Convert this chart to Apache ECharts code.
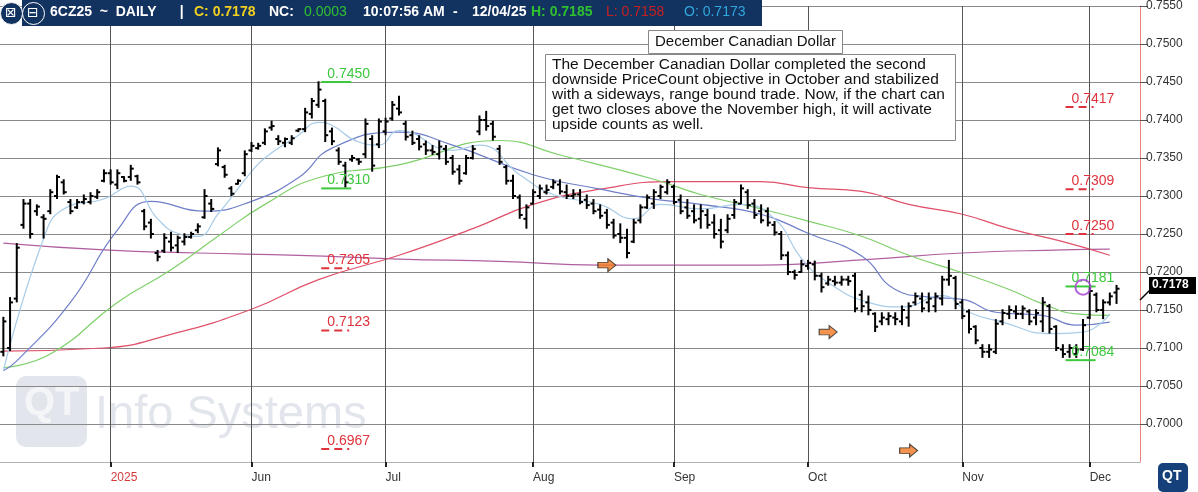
<!DOCTYPE html>
<html>
<head>
<meta charset="utf-8">
<script src="https://cdn.jsdelivr.net/npm/echarts@6/dist/echarts.min.js"></script>
<style>
html,body{margin:0;padding:0;background:#fff;}
#chart{width:1198px;height:492px;}
</style>
</head>
<body>
<div id="chart"></div>
<script>
// daily bars: [open, high, low, close]
var bars = [
[.7095,.7141,.7089,.7135],[.7100,.7167,.7096,.7160],[.7165,.7238,.7160,.7232],[.7262,.7296,.7257,.7290],
[.7290,.7296,.7244,.7250],[.7280,.7289,.7274,.7286],[.7272,.7276,.7244,.7270],[.7280,.7309,.7276,.7305],
[.7300,.7328,.7296,.7325],[.7318,.7322,.7302,.7305],[.7292,.7296,.7276,.7280],[.7285,.7296,.7283,.7292],
[.7292,.7302,.7289,.7296],[.7292,.7305,.7289,.7300],[.7299,.7309,.7296,.7305],[.7320,.7335,.7318,.7330],
[.7330,.7335,.7315,.7318],[.7315,.7335,.7309,.7330],[.7325,.7326,.7318,.7320],[.7325,.7341,.7320,.7336],
[.7326,.7328,.7315,.7318],[.7280,.7283,.7255,.7260],[.7265,.7270,.7244,.7250],[.7225,.7229,.7214,.7220],
[.7228,.7251,.7225,.7245],[.7240,.7253,.7227,.7232],[.7235,.7248,.7225,.7245],[.7240,.7251,.7235,.7246],
[.7246,.7253,.7244,.7250],[.7255,.7264,.7251,.7260],[.7272,.7309,.7270,.7300],[.7290,.7296,.7279,.7283],
[.7342,.7364,.7339,.7360],[.7338,.7341,.7324,.7328],[.7310,.7313,.7300,.7303],[.7316,.7322,.7315,.7320],
[.7330,.7360,.7326,.7355],[.7360,.7371,.7358,.7366],[.7363,.7370,.7361,.7366],[.7370,.7389,.7367,.7385],
[.7390,.7399,.7386,.7392],[.7375,.7380,.7367,.7372],[.7370,.7377,.7364,.7375],[.7370,.7380,.7367,.7376],
[.7386,.7389,.7384,.7388],[.7388,.7416,.7384,.7410],[.7408,.7429,.7402,.7425],[.7420,.7451,.7416,.7440],
[.7425,.7428,.7371,.7380],[.7385,.7390,.7367,.7372],[.7360,.7364,.7341,.7345],[.7340,.7345,.7311,.7318],
[.7348,.7354,.7345,.7350],[.7348,.7350,.7341,.7345],[.7355,.7402,.7350,.7395],[.7375,.7380,.7332,.7340],
[.7368,.7402,.7363,.7398],[.7385,.7403,.7380,.7398],[.7402,.7425,.7399,.7420],[.7415,.7432,.7406,.7410],
[.7395,.7399,.7373,.7378],[.7380,.7386,.7367,.7370],[.7375,.7380,.7360,.7365],[.7368,.7373,.7354,.7360],
[.7360,.7367,.7354,.7358],[.7355,.7373,.7348,.7365],[.7362,.7367,.7341,.7345],[.7350,.7354,.7328,.7332],
[.7335,.7341,.7315,.7320],[.7330,.7354,.7328,.7350],[.7350,.7367,.7348,.7362],[.7385,.7406,.7380,.7400],
[.7400,.7412,.7386,.7392],[.7395,.7399,.7373,.7378],[.7362,.7367,.7341,.7345],[.7338,.7341,.7315,.7320],
[.7320,.7328,.7296,.7300],[.7298,.7302,.7270,.7275],[.7270,.7289,.7257,.7285],[.7290,.7309,.7289,.7305],
[.7300,.7315,.7296,.7310],[.7305,.7315,.7302,.7308],[.7312,.7322,.7309,.7318],[.7315,.7322,.7302,.7306],
[.7305,.7315,.7296,.7300],[.7300,.7309,.7296,.7302],[.7302,.7309,.7289,.7292],[.7295,.7302,.7283,.7288],
[.7290,.7296,.7276,.7280],[.7282,.7289,.7270,.7274],[.7278,.7283,.7257,.7262],[.7265,.7270,.7244,.7248],
[.7250,.7264,.7238,.7245],[.7245,.7257,.7218,.7225],[.7240,.7270,.7238,.7265],[.7268,.7289,.7264,.7285],
[.7285,.7302,.7283,.7298],[.7290,.7309,.7283,.7305],[.7300,.7315,.7296,.7312],[.7305,.7322,.7302,.7318],
[.7312,.7315,.7289,.7292],[.7295,.7302,.7276,.7280],[.7285,.7296,.7270,.7274],[.7280,.7289,.7264,.7268],
[.7270,.7289,.7257,.7280],[.7275,.7283,.7257,.7262],[.7265,.7276,.7244,.7250],[.7255,.7270,.7231,.7240],
[.7255,.7276,.7251,.7270],[.7275,.7296,.7270,.7292],[.7290,.7315,.7289,.7310],[.7305,.7309,.7283,.7288],
[.7290,.7296,.7270,.7275],[.7280,.7289,.7264,.7268],[.7280,.7285,.7260,.7265],[.7262,.7267,.7248,.7252],
[.7250,.7254,.7216,.7222],[.7222,.7227,.7196,.7200],[.7200,.7203,.7190,.7196],[.7200,.7216,.7199,.7210],
[.7208,.7216,.7203,.7212],[.7210,.7215,.7189,.7195],[.7195,.7199,.7173,.7180],[.7185,.7195,.7182,.7190],
[.7188,.7195,.7182,.7186],[.7186,.7195,.7182,.7190],[.7190,.7195,.7182,.7188],[.7195,.7199,.7147,.7152],
[.7170,.7176,.7147,.7155],[.7160,.7169,.7143,.7150],[.7145,.7147,.7121,.7128],[.7135,.7147,.7130,.7140],
[.7138,.7147,.7130,.7142],[.7140,.7147,.7130,.7138],[.7135,.7156,.7130,.7150],[.7140,.7160,.7128,.7155],
[.7160,.7173,.7156,.7168],[.7165,.7173,.7147,.7152],[.7160,.7173,.7147,.7165],[.7155,.7173,.7147,.7168],
[.7165,.7195,.7156,.7190],[.7190,.7216,.7182,.7195],[.7192,.7195,.7151,.7158],[.7160,.7164,.7138,.7142],
[.7148,.7151,.7119,.7125],[.7128,.7130,.7105,.7110],[.7100,.7105,.7087,.7095],[.7095,.7105,.7087,.7098],
[.7095,.7138,.7092,.7132],[.7135,.7151,.7130,.7146],[.7145,.7156,.7138,.7150],[.7148,.7156,.7138,.7145],
[.7145,.7156,.7138,.7152],[.7148,.7151,.7130,.7135],[.7140,.7151,.7130,.7146],[.7135,.7167,.7121,.7160],
[.7155,.7158,.7119,.7125],[.7128,.7130,.7096,.7100],[.7098,.7105,.7087,.7092],[.7095,.7105,.7087,.7100],
[.7092,.7105,.7087,.7098],[.7098,.7138,.7096,.7130],[.7140,.7182,.7138,.7175],[.7170,.7173,.7147,.7150],
[.7150,.7164,.7138,.7160],[.7160,.7173,.7156,.7168],[.7173,.7183,.7158,.7178]
];
var totalSlots = 170;
var monthIdx = [16, 37, 57, 79, 100, 120, 143, 162];
var monthNames = ['2025', 'Jun', 'Jul', 'Aug', 'Sep', 'Oct', 'Nov', 'Dec'];

// moving averages: [bar index, value]
var maFast = [[0,.7070],[5.5,.7244],[9.3,.7283],[14.5,.7296],[19.4,.7313],[23.4,.7270],[26.4,.7251],[29.4,.7247],[32.4,.7276],[36.9,.7332],[39.4,.7350],[44.3,.7380],[47.3,.7397],[49.3,.7393],[53.3,.7371],[56.3,.7367],[59.3,.7386],[66.7,.7360],[71.2,.7367],[77.2,.7328],[81.6,.7302],[89.1,.7289],[93.6,.7270],[98.1,.7289],[104,.7283],[110,.7289],[114.5,.7270],[119,.7218],[123.4,.7186],[129.4,.7160],[133.9,.7154],[139.9,.7169],[144.3,.7147],[148.8,.7134],[156.3,.7119],[160.7,.7121],[165.2,.7145]];
var maMid = [[0,.7070],[1.5,.7083],[9.6,.7160],[17,.7255],[22.4,.7293],[30.4,.7280],[36.9,.7293],[44.3,.7324],[49.3,.7363],[58.8,.7384],[66.7,.7367],[78.7,.7328],[89.1,.7309],[96.6,.7296],[104,.7289],[113,.7276],[120.4,.7251],[127.9,.7221],[132.8,.7177],[137.9,.7167],[142.8,.7164],[147.8,.7147],[155.2,.7143],[160.3,.7130],[164.9,.7134]];
var maSlow = [[0,.7074],[7,.7092],[17,.7160],[24.5,.7203],[31.9,.7247],[39.4,.7289],[46.9,.7324],[58.8,.7341],[74.2,.7373],[83.1,.7354],[96.6,.7322],[104,.7302],[113,.7283],[120.4,.7267],[127.9,.7247],[135.4,.7222],[142.8,.7199],[150.3,.7177],[155.2,.7158],[160.3,.7145],[164.9,.7143]];
var ma100 = [[0,.7096],[14.5,.7100],[24.5,.7118],[36.9,.7151],[46.9,.7190],[58.8,.7222],[69.7,.7257],[78.7,.7289],[89.1,.7309],[99.6,.7319],[113,.7319],[120.4,.7311],[127.9,.7306],[135.4,.7289],[142.8,.7276],[150.3,.7257],[157.8,.7240],[164.9,.7222]];
var ma200 = [[0,.7238],[14.5,.7229],[29.4,.7225],[44.3,.7222],[58.8,.7217],[74.2,.7214],[89.1,.7209],[104,.7209],[113,.7209],[127.9,.7216],[142.8,.7225],[157.8,.7229],[164.9,.7230]];

// price count levels: bar index and level
var redIdx = [158.5, 158.5, 158.5, 47.5, 47.5, 47.5];
var redVals = [0.7417, 0.7309, 0.7250, 0.7205, 0.7123, 0.6967];
var greenIdx = [47.5, 47.5, 158.5, 158.5];
var greenVals = [0.7450, 0.7310, 0.7181, 0.7084];
var arrows = [[89.5,.7209],[123.4,.7121],[135,.6965]];
var circlePt = [[161.2,.7180]];
var lastPrice = 0.7178;

var cats = [];
for (var i = 0; i < totalSlots; i++) {
	var m = monthIdx.indexOf(i);
	cats.push(m >= 0 ? monthNames[m] : '');
}

var myChart = echarts.init(document.getElementById('chart'));

function ohlcItem(params, api) {
	var x = api.value(0);
	var o = api.coord([x, api.value(1)]);
	var h = api.coord([x, api.value(2)]);
	var l = api.coord([x, api.value(3)]);
	var c = api.coord([x, api.value(4)]);
	var s = {stroke: '#000', lineWidth: 2};
	return {type: 'group', children: [
		{type: 'line', shape: {x1: h[0], y1: h[1], x2: l[0], y2: l[1]}, style: s},
		{type: 'line', shape: {x1: o[0] - 3, y1: o[1], x2: o[0], y2: o[1]}, style: s},
		{type: 'line', shape: {x1: c[0], y1: c[1], x2: c[0] + 3, y2: c[1]}, style: s}
	]};
}

function levelItem(color, dashed) {
	return function (params, api) {
		var v = api.value(1);
		var p = api.coord([api.value(0), v]);
		return {type: 'group', children: [
			{type: 'line', shape: {x1: p[0] - 4, y1: p[1], x2: p[0] + (dashed ? 24 : 26), y2: p[1]},
				style: {stroke: color, lineWidth: 2, lineDash: dashed ? [8, 5] : null}},
			{type: 'text', x: p[0] + 2, y: p[1] - 1,
				style: {text: v.toFixed(4), fill: color, font: '14px Arial', textVerticalAlign: 'bottom'}}
		]};
	};
}

function maSeries(data, color) {
	return {type: 'line', data: data, smooth: true, symbol: 'none', silent: true,
		lineStyle: {color: color, width: 1.2}, z: 3};
}

var ohlcData = bars.map(function (b, i) { return [i, b[0], b[1], b[2], b[3]]; });
var redData = redIdx.map(function (x, i) { return [x, redVals[i]]; });
var greenData = greenIdx.map(function (x, i) { return [x, greenVals[i]]; });

var hdr = 'bold 14px "Liberation Sans Narrow", Arial';
var option = {
	animation: false,
	grid: {left: 0, right: 58, top: -2, bottom: 30},
	xAxis: [{
		type: 'category', data: cats, boundaryGap: true,
		axisLine: {lineStyle: {color: '#bbb', type: 'dotted'}},
		axisTick: {show: true, interval: function (i) { return monthIdx.indexOf(i) >= 0; }, alignWithLabel: true, lineStyle: {color: '#222', width: 2}, length: 5},
		axisLabel: {interval: function (i) { return monthIdx.indexOf(i) >= 0; }, align: 'left', color: function (v) { return v == '2025' ? '#d43a3a' : '#333'; }, fontSize: 12, fontFamily: 'Arial', margin: 10},
		splitLine: {show: false}
	}],
	yAxis: {
		type: 'value', position: 'right', min: 0.695, max: 0.755, interval: 0.005,
		axisLine: {show: true, lineStyle: {color: '#f08080'}},
		axisTick: {show: true, length: 8, lineStyle: {color: '#555'}},
		axisLabel: {color: '#333', fontSize: 12, fontFamily: 'Arial', margin: 6, showMinLabel: false, formatter: function (v) { return v.toFixed(4); }},
		splitLine: {lineStyle: {color: '#8a8a8a', width: 1}}
	},
	series: [
		{type: 'line', data: [], markLine: {silent: true, symbol: 'none', label: {show: false},
			lineStyle: {color: '#555', type: 'solid', width: 1},
			data: monthIdx.map(function (m) { return {xAxis: m}; })}},
		maSeries(ma200, '#b05fa0'),
		maSeries(ma100, '#e0506a'),
		maSeries(maSlow, '#7fd06a'),
		maSeries(maMid, '#6f7fc8'),
		maSeries(maFast, '#a8cce8'),
		{type: 'custom', data: ohlcData, renderItem: ohlcItem, z: 5},
		{type: 'custom', data: redData, renderItem: levelItem('#e0323c', true), z: 6},
		{type: 'custom', data: greenData, renderItem: levelItem('#3cc83c', false), z: 6},
		{type: 'scatter', data: arrows, symbol: 'path://M0,4 L10,4 L10,0 L18,7 L10,14 L10,10 L0,10 Z',
			symbolSize: [18, 13], itemStyle: {color: '#f07820', borderColor: '#222', borderWidth: 1}, z: 7},
		{type: 'scatter', data: circlePt, symbol: 'circle', symbolSize: 15,
			itemStyle: {color: 'rgba(0,0,0,0)', borderColor: '#a040d0', borderWidth: 2}, z: 7}
	],
	graphic: [
		{type: 'text', left: 95, top: 392, z: 0, style: {text: 'Info Systems', font: '47px Arial', fill: 'rgba(150,162,185,0.28)'}},
		{type: 'rect', left: 16, top: 376, z: 0, shape: {width: 71, height: 71, r: 10}, style: {fill: 'rgba(150,162,185,0.28)'}},
		{type: 'text', left: 24, top: 384, z: 0, style: {text: 'QT', font: 'bold 40px Arial', fill: 'rgba(255,255,255,0.6)'}},
		{type: 'rect', left: 22, top: 0, z: 10, shape: {width: 740, height: 26}, style: {fill: '#12325f'}},
		{type: 'circle', left: 0, top: 2, z: 11, shape: {r: 11}, style: {fill: '#12325f', stroke: '#fff', lineWidth: 1}},
		{type: 'circle', left: 22, top: 2, z: 11, shape: {r: 11}, style: {fill: '#12325f', stroke: '#fff', lineWidth: 1}},
		{type: 'text', left: 5, top: 6, z: 12, style: {text: '⊠', fill: '#fff', font: '14px DejaVu Sans'}},
		{type: 'text', left: 27, top: 6, z: 12, style: {text: '⊟', fill: '#fff', font: '14px DejaVu Sans'}},
		{type: 'text', left: 50, top: 5, z: 12, style: {text: '6CZ25  ~  DAILY      |', fill: '#fff', font: hdr}},
		{type: 'text', left: 194, top: 5, z: 12, style: {text: 'C: 0.7178', fill: '#f0d020', font: hdr}},
		{type: 'text', left: 269, top: 5, z: 12, style: {text: 'NC:', fill: '#fff', font: hdr}},
		{type: 'text', left: 304, top: 5, z: 12, style: {text: '0.0003', fill: '#30c030', font: '14px "Liberation Sans Narrow", Arial'}},
		{type: 'text', left: 363, top: 5, z: 12, style: {text: '10:07:56 AM', fill: '#fff', font: hdr}},
		{type: 'text', left: 453, top: 5, z: 12, style: {text: '-', fill: '#fff', font: hdr}},
		{type: 'text', left: 472, top: 5, z: 12, style: {text: '12/04/25', fill: '#fff', font: hdr}},
		{type: 'text', left: 531, top: 5, z: 12, style: {text: 'H: 0.7185', fill: '#30c030', font: hdr}},
		{type: 'text', left: 606, top: 5, z: 12, style: {text: 'L: 0.7158', fill: '#c82020', font: '14px "Liberation Sans Narrow", Arial'}},
		{type: 'text', left: 684, top: 5, z: 12, style: {text: 'O: 0.7173', fill: '#30a8e0', font: '14px "Liberation Sans Narrow", Arial'}},
		{type: 'rect', left: 648, top: 30, z: 10, shape: {width: 194, height: 23}, style: {fill: '#fff', stroke: '#888'}},
		{type: 'text', left: 655, top: 34, z: 11, style: {text: 'December Canadian Dollar', fill: '#111', font: '15px Arial'}},
		{type: 'rect', left: 545, top: 54, z: 10, shape: {width: 410, height: 86}, style: {fill: '#fff', stroke: '#888'}},
		{type: 'text', left: 552, top: 57, z: 11, style: {
			text: 'The December Canadian Dollar completed the second\ndownside PriceCount objective in October and stabilized\nwith a sideways, range bound trade. Now, if the chart can\nget two closes above the November high, it will activate\nupside counts as well.',
			fill: '#111', font: '15.5px Arial', lineHeight: 15}},
		{type: 'line', z: 10, shape: {x1: 1140, y1: 300, x2: 1150, y2: 290}, style: {stroke: '#000', lineWidth: 1.5}},
		{type: 'rect', left: 1149, top: 277, z: 10, shape: {width: 47, height: 17}, style: {fill: '#000'}},
		{type: 'text', left: 1152, top: 279, z: 11, style: {text: lastPrice.toFixed(4), fill: '#fff', font: 'bold 12px Arial'}},
		{type: 'rect', left: 1158, top: 463, z: 10, shape: {width: 30, height: 29, r: 5}, style: {fill: '#15407a'}},
		{type: 'text', left: 1162, top: 469, z: 11, style: {text: 'QT', fill: '#fff', font: 'bold 14px Arial'}}
	]
};
myChart.setOption(option);
</script>
</body>
</html>
